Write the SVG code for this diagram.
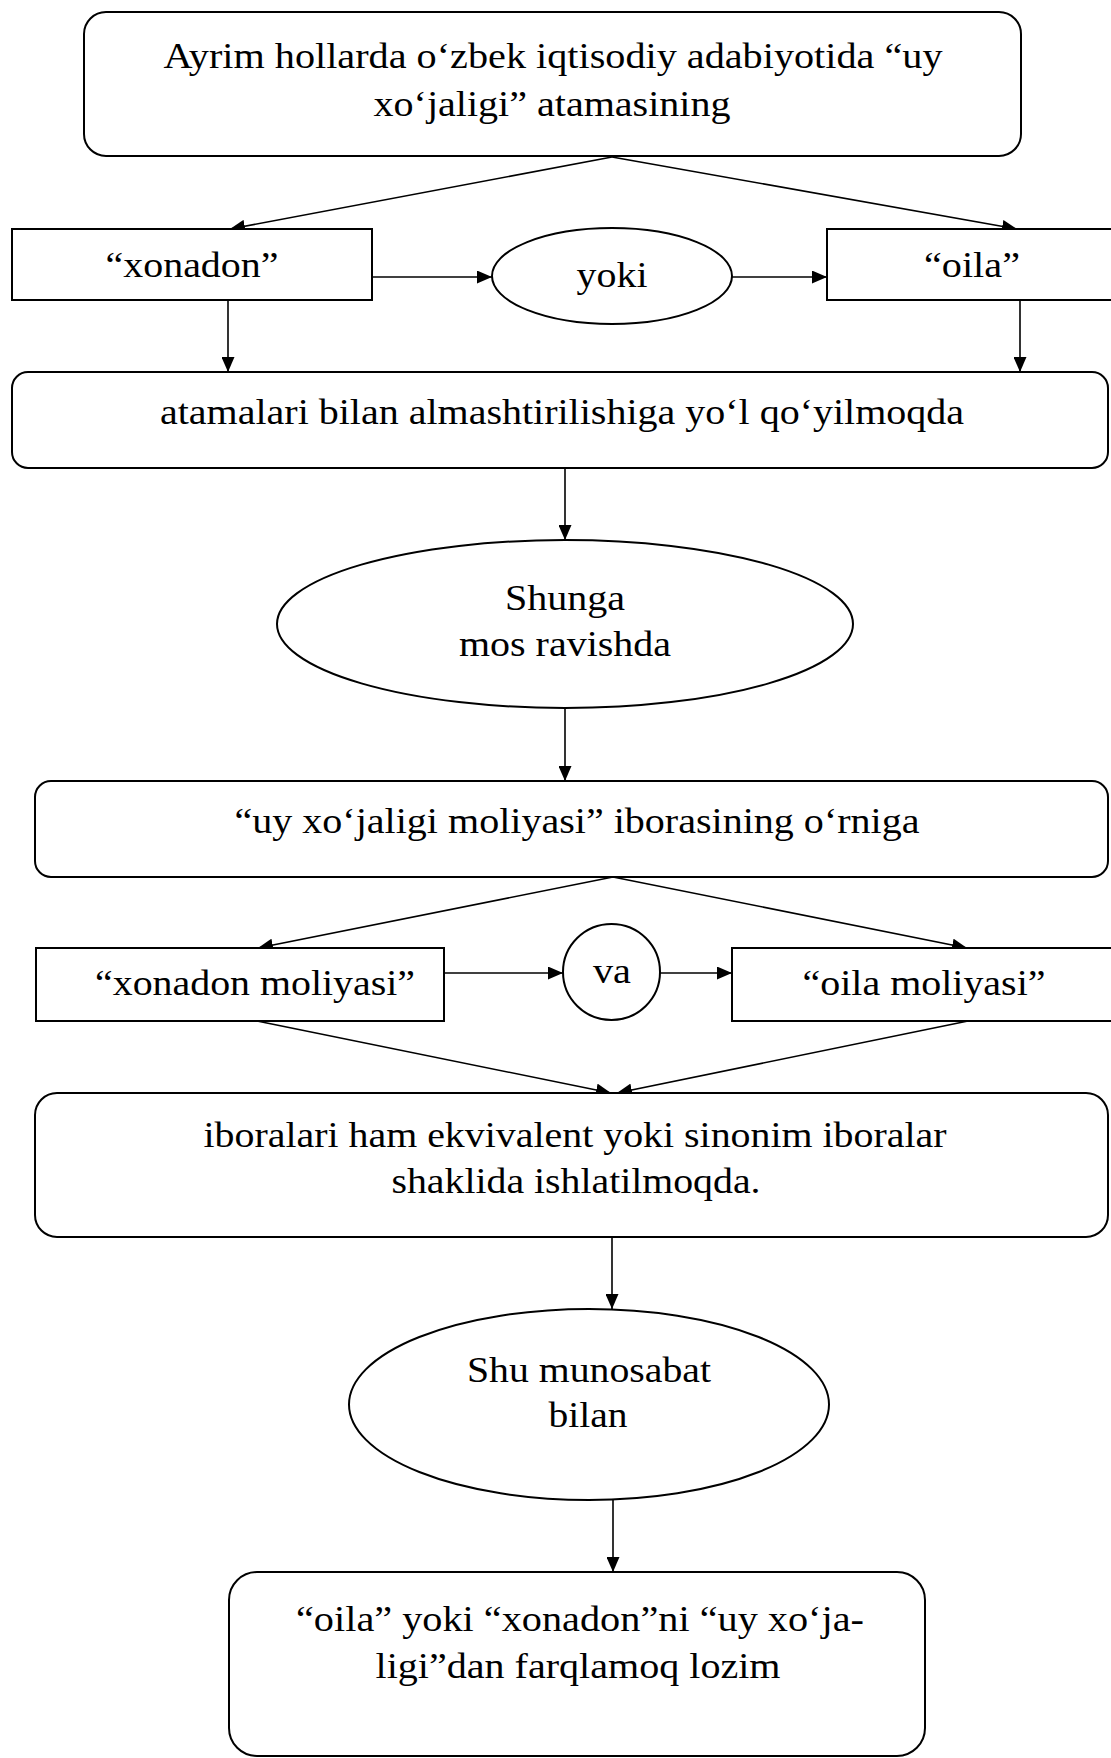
<svg xmlns="http://www.w3.org/2000/svg" width="1111" height="1758" viewBox="0 0 1111 1758">
<style>
.box{fill:#fff;stroke:#000;stroke-width:2}
.conn line{stroke:#000;stroke-width:1.6;fill:none}
text{font-family:"Liberation Serif","Times New Roman",serif;font-size:35px;text-anchor:middle;fill:#000}
</style>
<defs>
<marker id="ah" markerUnits="userSpaceOnUse" markerWidth="16" markerHeight="13" refX="15" refY="6.5" orient="auto">
<path d="M0,0 L15,6.5 L0,13 z" fill="#000"/>
</marker>
</defs>
<rect width="1111" height="1758" fill="#fff"/>
<g class="conn" marker-end="url(#ah)">
<line x1="612" y1="157" x2="230" y2="229" marker-end="url(#ah)"/>
<line x1="612" y1="157" x2="1017" y2="229" marker-end="url(#ah)"/>
<line x1="372" y1="277" x2="492" y2="277" marker-end="url(#ah)"/>
<line x1="732" y1="277" x2="827" y2="277" marker-end="url(#ah)"/>
<line x1="228" y1="300" x2="228" y2="372" marker-end="url(#ah)"/>
<line x1="1020" y1="300" x2="1020" y2="372" marker-end="url(#ah)"/>
<line x1="565" y1="468" x2="565" y2="540" marker-end="url(#ah)"/>
<line x1="565" y1="708" x2="565" y2="781" marker-end="url(#ah)"/>
<line x1="613" y1="877" x2="258" y2="948" marker-end="url(#ah)"/>
<line x1="613" y1="877" x2="967" y2="948" marker-end="url(#ah)"/>
<line x1="444" y1="973" x2="563" y2="973" marker-end="url(#ah)"/>
<line x1="660" y1="973" x2="732" y2="973" marker-end="url(#ah)"/>
<line x1="257" y1="1021" x2="611" y2="1093" marker-end="url(#ah)"/>
<line x1="968" y1="1021" x2="617" y2="1093" marker-end="url(#ah)"/>
<line x1="612" y1="1237" x2="612" y2="1309" marker-end="url(#ah)"/>
<line x1="613" y1="1500" x2="613" y2="1572" marker-end="url(#ah)"/>
</g>
<g id="n-top">
<rect class="box" x="84" y="12" width="937" height="144" rx="22"/>
<text x="553" y="68" textLength="779" lengthAdjust="spacingAndGlyphs">Ayrim hollarda o‘zbek iqtisodiy adabiyotida “uy</text>
<text x="552" y="116" textLength="357" lengthAdjust="spacingAndGlyphs">xo‘jaligi” atamasining</text>
</g>
<g id="n-xonadon">
<rect class="box" x="12" y="229" width="360" height="71"/>
<text x="192" y="277" textLength="173" lengthAdjust="spacingAndGlyphs">“xonadon”</text>
</g>
<g id="n-yoki">
<ellipse class="box" cx="612" cy="276" rx="120" ry="48"/>
<text x="612" y="287" textLength="71" lengthAdjust="spacingAndGlyphs">yoki</text>
</g>
<g id="n-oila">
<rect class="box" x="827" y="229" width="300" height="71"/>
<text x="972" y="277" textLength="96" lengthAdjust="spacingAndGlyphs">“oila”</text>
</g>
<g id="n-atamalari">
<rect class="box" x="12" y="372" width="1096" height="96" rx="16"/>
<text x="562" y="424" textLength="804" lengthAdjust="spacingAndGlyphs">atamalari bilan almashtirilishiga yo‘l qo‘yilmoqda</text>
</g>
<g id="n-shunga">
<ellipse class="box" cx="565" cy="624" rx="288" ry="84"/>
<text x="565" y="610" textLength="120" lengthAdjust="spacingAndGlyphs">Shunga</text>
<text x="565" y="656" textLength="212" lengthAdjust="spacingAndGlyphs">mos ravishda</text>
</g>
<g id="n-uyxojaligi">
<rect class="box" x="35" y="781" width="1073" height="96" rx="16"/>
<text x="577" y="833" textLength="685" lengthAdjust="spacingAndGlyphs">“uy xo‘jaligi moliyasi” iborasining o‘rniga</text>
</g>
<g id="n-xonadon-moliyasi">
<rect class="box" x="36" y="948" width="408" height="73"/>
<text x="255" y="995" textLength="320" lengthAdjust="spacingAndGlyphs">“xonadon moliyasi”</text>
</g>
<g id="n-va">
<ellipse class="box" cx="611.5" cy="972" rx="48.5" ry="48"/>
<text x="612" y="983" textLength="38" lengthAdjust="spacingAndGlyphs">va</text>
</g>
<g id="n-oila-moliyasi">
<rect class="box" x="732" y="948" width="400" height="73"/>
<text x="924" y="995" textLength="243" lengthAdjust="spacingAndGlyphs">“oila moliyasi”</text>
</g>
<g id="n-iboralari">
<rect class="box" x="35" y="1093" width="1073" height="144" rx="22"/>
<text x="575" y="1147" textLength="743" lengthAdjust="spacingAndGlyphs">iboralari ham ekvivalent yoki sinonim iboralar</text>
<text x="576" y="1193" textLength="369" lengthAdjust="spacingAndGlyphs">shaklida ishlatilmoqda.</text>
</g>
<g id="n-shu-munosabat">
<ellipse class="box" cx="589" cy="1404.5" rx="240" ry="95.5"/>
<text x="589" y="1382" textLength="244" lengthAdjust="spacingAndGlyphs">Shu munosabat</text>
<text x="588" y="1427" textLength="79" lengthAdjust="spacingAndGlyphs">bilan</text>
</g>
<g id="n-final">
<rect class="box" x="229" y="1572" width="696" height="184" rx="28"/>
<text x="580" y="1631" textLength="568" lengthAdjust="spacingAndGlyphs">“oila” yoki “xonadon”ni “uy xo‘ja-</text>
<text x="578" y="1678" textLength="405" lengthAdjust="spacingAndGlyphs">ligi”dan farqlamoq lozim</text>
</g>
</svg>
